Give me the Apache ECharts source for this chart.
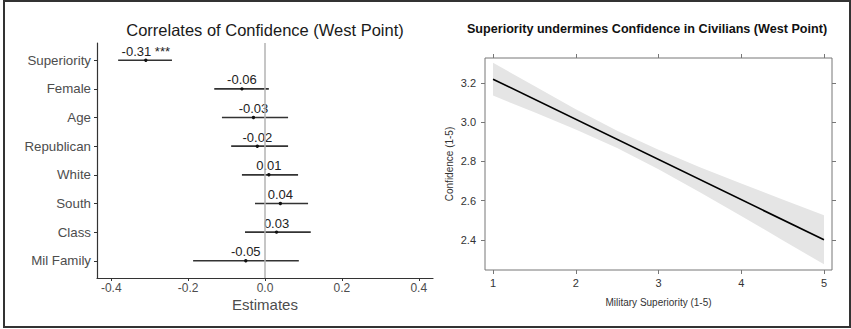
<!DOCTYPE html>
<html>
<head>
<meta charset="utf-8">
<script src="https://cdn.jsdelivr.net/npm/echarts@6/dist/echarts.min.js"></script>
<style>
  html, body { margin: 0; padding: 0; background: #fff; }
  #chart { width: 851px; height: 329px; }
</style>
</head>
<body>
<div id="chart"></div>
<script>
// left panel: coefficient plot
const categories = ['Superiority', 'Female', 'Age', 'Republican', 'White', 'South', 'Class', 'Mil Family']
const estimates = [-0.31, -0.06, -0.03, -0.02, 0.01, 0.04, 0.03, -0.05]
const ciLow = [-0.382, -0.132, -0.112, -0.088, -0.060, -0.026, -0.052, -0.187]
const ciHigh = [-0.242, 0.010, 0.060, 0.060, 0.086, 0.112, 0.119, 0.088]
const stars = ['***', '', '', '', '', '', '', '']
const estTicks = [-0.4, -0.2, 0, 0.2, 0.4]

// right panel: predicted confidence by superiority
const superiority = [1, 1.5, 2, 2.5, 3, 3.5, 4, 4.5, 5]
const bandUpper = [3.304, 3.185, 3.067, 2.957, 2.860, 2.771, 2.688, 2.606, 2.525]
const bandLower = [3.136, 3.051, 2.963, 2.869, 2.760, 2.643, 2.522, 2.398, 2.275]
const fitX = [1, 5]
const fitY = [3.22, 2.40]
const supTicks = [1, 2, 3, 4, 5]
const confTicks = [2.4, 2.6, 2.8, 3.0, 3.2]

const rows = categories.map((c, i) => i + 1)
const font = 'Liberation Sans'
const frame = '#777'

const chart = echarts.init(document.getElementById('chart'), null, { renderer: 'svg' })

const option = {
  animation: false,
  title: [
    {
      text: 'Correlates of Confidence (West Point)',
      left: 265, top: 21, textAlign: 'center', padding: 0,
      textStyle: { fontFamily: font, fontSize: 16.5, fontWeight: 'normal', color: '#1a1a1a' }
    },
    {
      text: 'Superiority undermines Confidence in Civilians (West Point)',
      left: 647, top: 22, textAlign: 'center', padding: 0,
      textStyle: { fontFamily: font, fontSize: 12.6, fontWeight: 'bold', color: '#111' }
    }
  ],
  graphic: [
    { // outer frame
      type: 'rect', silent: true,
      shape: { x: 4, y: 1, width: 846, height: 326 },
      style: { fill: 'none', stroke: '#333', lineWidth: 2 }
    }
  ],
  grid: [
    { left: 97, right: 418, top: 43, bottom: 51 },
    { left: 485, right: 19, top: 58, bottom: 59, show: true, borderColor: frame, borderWidth: 1, backgroundColor: 'transparent' }
  ],
  xAxis: [
    {
      gridIndex: 0, type: 'value', min: -0.437, max: 0.437,
      axisLine: { onZero: false, lineStyle: { color: '#333', width: 1.2 } },
      axisTick: { customValues: estTicks, length: 3, lineStyle: { color: '#333' } },
      axisLabel: { customValues: estTicks, formatter: v => v.toFixed(1), color: '#4d4d4d', fontSize: 12, fontFamily: font, margin: 4 },
      splitLine: { show: false },
      name: 'Estimates', nameLocation: 'middle', nameGap: 19, nameMoveOverlap: false,
      nameTextStyle: { fontFamily: font, fontSize: 15, color: '#4d4d4d' }
    },
    {
      gridIndex: 1, type: 'value', min: 0.903, max: 5.097,
      axisLine: { show: false, onZero: false },
      axisTick: { customValues: supTicks, length: 4, lineStyle: { color: frame } },
      axisLabel: { customValues: supTicks, color: '#333', fontSize: 11, fontFamily: font, margin: 7 },
      splitLine: { show: false },
      name: 'Military Superiority (1-5)', nameLocation: 'middle', nameGap: 27, nameMoveOverlap: false,
      nameTextStyle: { fontFamily: font, fontSize: 10, color: '#333' }
    },
    {
      gridIndex: 1, type: 'value', position: 'top', min: 0.903, max: 5.097,
      axisLine: { show: false, onZero: false },
      axisTick: { customValues: supTicks, length: 4, lineStyle: { color: frame } },
      axisLabel: { show: false },
      splitLine: { show: false }
    }
  ],
  yAxis: [
    {
      gridIndex: 0, type: 'value', min: 0.4, max: 8.6, inverse: true,
      axisLine: { show: true, onZero: false, lineStyle: { color: '#333', width: 1.2 } },
      axisTick: { show: true, customValues: rows, length: 3, lineStyle: { color: '#333' } },
      axisLabel: { customValues: rows, formatter: v => categories[Math.round(v) - 1], color: '#4d4d4d', fontSize: 13.3, fontFamily: font, margin: 6 },
      splitLine: { show: false }
    },
    {
      gridIndex: 1, type: 'value', min: 2.246, max: 3.328,
      axisLine: { show: false, onZero: false },
      axisTick: { show: true, customValues: confTicks, length: 4, lineStyle: { color: frame } },
      axisLabel: { customValues: confTicks, formatter: v => v.toFixed(1), color: '#333', fontSize: 11, fontFamily: font, margin: 9 },
      splitLine: { show: false },
      name: 'Confidence (1-5)', nameLocation: 'middle', nameGap: 31, nameMoveOverlap: false,
      nameTextStyle: { fontFamily: font, fontSize: 10, color: '#333' }
    },
    {
      gridIndex: 1, type: 'value', position: 'right', min: 2.246, max: 3.328,
      axisLine: { show: false, onZero: false },
      axisTick: { show: true, customValues: confTicks, length: 4, lineStyle: { color: frame } },
      axisLabel: { show: false },
      splitLine: { show: false }
    }
  ],
  series: [
    { // reference line at zero
      type: 'line', xAxisIndex: 0, yAxisIndex: 0, silent: true,
      data: [[0, 0.4], [0, 8.6]], symbol: 'none',
      lineStyle: { color: '#b3b3b3', width: 1.5 }
    },
    {
      type: 'custom', xAxisIndex: 0, yAxisIndex: 0,
      data: estimates.map((e, i) => [e, ciLow[i], ciHigh[i], rows[i]]),
      renderItem (params, api) {
        const i = params.dataIndex
        const row = api.value(3)
        const p = api.coord([api.value(0), row])
        const lo = api.coord([api.value(1), row])
        const hi = api.coord([api.value(2), row])
        const label = estimates[i].toFixed(2) + (stars[i] ? ' ' + stars[i] : '')
        return {
          type: 'group',
          children: [
            { type: 'line', shape: { x1: lo[0], y1: lo[1], x2: hi[0], y2: hi[1] }, style: { stroke: '#333', lineWidth: 1.6 } },
            { type: 'circle', shape: { cx: p[0], cy: p[1], r: 1.7 }, style: { fill: '#111' } },
            { type: 'text', x: p[0], y: p[1] - 9, style: { text: label, align: 'center', verticalAlign: 'middle', font: '13px ' + font, fill: '#222' } }
          ]
        }
      }
    },
    { // confidence band
      type: 'custom', xAxisIndex: 1, yAxisIndex: 1, silent: true,
      data: superiority.map((x, i) => [x, bandLower[i], bandUpper[i]]),
      renderItem (params, api) {
        if (params.dataIndex !== 0) return
        const upper = superiority.map((x, i) => api.coord([x, bandUpper[i]]))
        const lower = superiority.map((x, i) => api.coord([x, bandLower[i]])).reverse()
        return { type: 'polygon', shape: { points: upper.concat(lower) }, style: { fill: '#e5e5e5' } }
      }
    },
    {
      type: 'line', xAxisIndex: 1, yAxisIndex: 1, silent: true,
      data: fitX.map((x, i) => [x, fitY[i]]), symbol: 'none',
      lineStyle: { color: '#000', width: 1.6 }
    }
  ]
}

chart.setOption(option)
</script>
</body>
</html>
